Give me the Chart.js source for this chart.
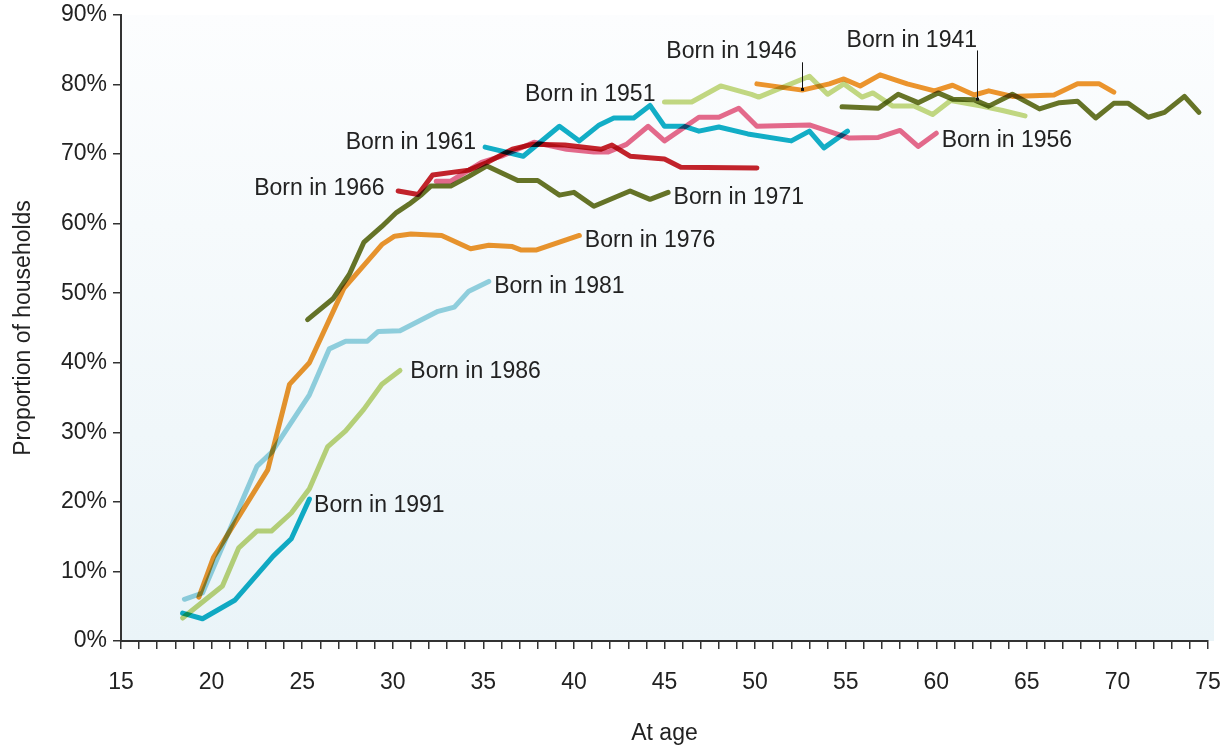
<!DOCTYPE html>
<html>
<head>
<meta charset="utf-8">
<title>Proportion of households by age</title>
<script src="https://cdn.jsdelivr.net/npm/chart.js@4.4.1/dist/chart.umd.min.js"></script>
<style>
  html, body { margin: 0; padding: 0; background: #ffffff; }
  #wrap { width: 1224px; height: 747px; position: relative; }
</style>
</head>
<body>
<div id="wrap"><canvas id="myChart" width="1224" height="747"></canvas></div>
<script>
// Cohort data: age (years) and proportion of households (%)
var age1941 = [54.8, 56.8, 57.9, 59.0, 60.1, 60.9, 62.1, 62.9, 64.2, 65.7, 66.8, 67.8, 68.8, 69.8, 70.6, 71.7, 72.6, 73.7, 74.5];
var pct1941 = [76.8, 76.6, 78.6, 77.4, 78.8, 77.9, 77.8, 76.9, 78.6, 76.5, 77.4, 77.6, 75.2, 77.3, 77.3, 75.3, 76.0, 78.3, 76.0];

var age1946 = [50.1, 52.6, 54.1, 54.9, 55.8, 56.9, 58.4, 59.9, 60.9, 62.1, 62.9, 64.2, 66.5, 67.8, 69.0, 69.8];
var pct1946 = [80.1, 79.2, 80.1, 80.8, 79.8, 81.4, 80.1, 79.1, 79.9, 78.5, 79.1, 78.3, 78.5, 80.1, 80.1, 78.9];

var age1951 = [45.0, 46.5, 48.1, 49.8, 50.2, 53.0, 54.0, 54.9, 55.9, 56.5, 57.6, 58.8, 59.8, 60.8, 62.5, 63.6, 64.9];
var pct1951 = [77.5, 77.5, 79.8, 78.6, 78.2, 81.2, 78.6, 80.1, 78.2, 78.8, 76.9, 76.9, 75.7, 77.7, 76.9, 76.3, 75.5];

var age1956 = [32.4, 33.2, 34.9, 36.0, 37.8, 39.6, 41.1, 41.9, 42.9, 44.1, 45.0, 46.9, 48.0, 49.1, 50.1, 53.0, 55.2, 56.8, 58.0, 59.0, 60.0];
var pct1956 = [66.1, 66.1, 68.8, 69.7, 71.7, 70.7, 70.3, 70.3, 71.4, 74.0, 71.9, 75.3, 75.3, 76.6, 74.0, 74.2, 72.3, 72.4, 73.4, 71.1, 73.0];

var age1961 = [35.1, 37.2, 39.2, 40.3, 41.4, 42.2, 43.3, 44.2, 45.0, 46.1, 46.9, 48.0, 49.6, 52.0, 53.0, 53.8, 55.1];
var pct1961 = [71.0, 69.7, 74.0, 71.9, 74.2, 75.2, 75.2, 77.0, 74.0, 74.0, 73.3, 73.9, 72.9, 71.9, 73.3, 70.9, 73.3];

var age1966 = [30.3, 31.4, 32.2, 34.2, 35.2, 36.6, 37.7, 39.5, 41.5, 42.1, 43.1, 45.0, 45.9, 50.1];
var pct1966 = [64.7, 64.2, 67.0, 67.7, 68.8, 70.7, 71.4, 71.3, 70.7, 71.3, 69.7, 69.3, 68.1, 68.0];

var age1971 = [25.3, 26.7, 27.6, 28.4, 29.4, 30.2, 30.9, 31.6, 32.1, 33.2, 34.2, 35.2, 36.9, 38.0, 39.2, 40.0, 41.1, 43.1, 44.2, 45.2];
var pct1971 = [46.2, 49.2, 52.7, 57.3, 59.6, 61.6, 62.8, 64.2, 65.4, 65.4, 66.8, 68.3, 66.2, 66.2, 64.1, 64.5, 62.5, 64.7, 63.5, 64.5];

var age1976 = [19.3, 20.1, 23.1, 24.3, 25.4, 27.3, 29.4, 30.1, 31.0, 32.7, 34.3, 35.3, 36.6, 37.1, 37.9, 40.3];
var pct1976 = [6.3, 12.0, 24.6, 36.9, 40.0, 50.7, 57.0, 58.2, 58.5, 58.3, 56.4, 56.9, 56.7, 56.2, 56.2, 58.3];

var age1981 = [18.5, 19.5, 22.5, 23.3, 25.4, 26.5, 27.4, 28.6, 29.2, 30.4, 32.5, 33.4, 34.2, 35.3];
var pct1981 = [6.0, 6.9, 25.1, 27.1, 35.4, 42.0, 43.1, 43.1, 44.5, 44.6, 47.4, 48.0, 50.3, 51.7];

var age1986 = [18.4, 20.6, 21.5, 22.5, 23.3, 24.4, 25.4, 26.4, 27.4, 28.4, 29.4, 30.4];
var pct1986 = [3.3, 7.9, 13.4, 15.8, 15.8, 18.4, 21.9, 27.9, 30.2, 33.3, 36.9, 38.9];

var age1991 = [18.4, 19.5, 21.3, 23.4, 24.4, 25.4];
var pct1991 = [4.0, 3.2, 5.9, 12.2, 14.7, 20.4];

// Axis ranges and tick labels
var xMin = 15, xMax = 75;
var yMin = 0, yMax = 90;
var yTickStep = 10;

// Label text and its anchor (age, %) for each cohort
var labelText = ["Born in 1941", "Born in 1946", "Born in 1951", "Born in 1956", "Born in 1961", "Born in 1966",
                 "Born in 1971", "Born in 1976", "Born in 1981", "Born in 1986", "Born in 1991"];
var labelAge = [55.05, 45.1, 37.3, 60.3, 27.4, 22.35, 45.5, 40.6, 35.6, 30.97, 25.66];
var labelPct = [86.3, 84.7, 78.5, 72.0, 71.7, 65.1, 63.7, 57.5, 51.0, 38.7, 19.4];

// leader lines: [age, fromPct, toPct]
var leader1946 = [52.57, 83.2, 79.3];
var leader1941 = [62.24, 84.9, 77.9];

var FONT = "'Liberation Sans', Arial, sans-serif";
var TEXT = "#222222";

function pairs(ages, vals) {
  var out = [];
  for (var i = 0; i < ages.length; i++) {
    out.push({ x: ages[i], y: vals[i] });
  }
  return out;
}

function series(label, ages, vals, color) {
  return {
    label: label,
    data: pairs(ages, vals),
    borderColor: color,
    backgroundColor: color,
    borderWidth: 5,
    pointRadius: 0,
    tension: 0,
    borderCapStyle: "round",
    borderJoinStyle: "round",
    fill: false
  };
}

// Plot background gradient
var bgPlugin = {
  id: "bgGradient",
  beforeDraw: function (chart) {
    var a = chart.chartArea;
    var ctx = chart.ctx;
    var g = ctx.createLinearGradient(0, a.top, 0, a.bottom);
    g.addColorStop(0, "#fcfdfe");
    g.addColorStop(1, "#eaf4f8");
    ctx.save();
    ctx.fillStyle = g;
    ctx.fillRect(a.left, a.top, a.right - a.left + 6, a.bottom - a.top);
    ctx.restore();
  }
};

// Lines are blended like ink (overlaps get darker)
var multiplyPlugin = {
  id: "multiplyLines",
  beforeDatasetsDraw: function (chart) {
    chart.ctx.save();
    chart.ctx.globalCompositeOperation = "multiply";
  },
  afterDatasetsDraw: function (chart) {
    chart.ctx.restore();
  }
};

// Cohort labels written next to the lines
var labelPlugin = {
  id: "cohortLabels",
  afterDraw: function (chart) {
    var ctx = chart.ctx;
    var xs = chart.scales.x, ys = chart.scales.y;
    ctx.save();
    ctx.font = "23px " + FONT;
    ctx.fillStyle = TEXT;
    ctx.textAlign = "left";
    ctx.textBaseline = "middle";
    for (var i = 0; i < labelText.length; i++) {
      ctx.fillText(labelText[i], xs.getPixelForValue(labelAge[i]), ys.getPixelForValue(labelPct[i]));
    }
    // small leader lines for 1946 and 1941
    [leader1946, leader1941].forEach(function (l) {
      var x = Math.round(xs.getPixelForValue(l[0])) + 0.5;
      var y0 = ys.getPixelForValue(l[1]);
      var y1 = ys.getPixelForValue(l[2]);
      ctx.strokeStyle = "#111";
      ctx.lineWidth = 1;
      ctx.beginPath();
      ctx.moveTo(x, y0);
      ctx.lineTo(x, y1);
      ctx.stroke();
      ctx.fillStyle = "#111";
      ctx.fillRect(x - 1.5, y1 - 1.5, 3, 3);
    });
    ctx.restore();
  }
};

var ctx = document.getElementById("myChart").getContext("2d");
var myChart = new Chart(ctx, {
  type: "line",
  data: {
    datasets: [
      series("Born in 1941", age1941, pct1941, "#687527"),
      series("Born in 1946", age1946, pct1946, "#f0962d"),
      series("Born in 1951", age1951, pct1951, "#c5da82"),
      series("Born in 1956", age1956, pct1956, "#e96b8c"),
      series("Born in 1961", age1961, pct1961, "#12b0c8"),
      series("Born in 1966", age1966, pct1966, "#c8232b"),
      series("Born in 1971", age1971, pct1971, "#687527"),
      series("Born in 1976", age1976, pct1976, "#f0962d"),
      series("Born in 1981", age1981, pct1981, "#95d3e0"),
      series("Born in 1986", age1986, pct1986, "#c0d67a"),
      series("Born in 1991", age1991, pct1991, "#10b0c8")
    ]
  },
  options: {
    responsive: false,
    animation: false,
    layout: { padding: { left: 0, top: 15, right: 16, bottom: 0 } },
    plugins: {
      legend: { display: false },
      tooltip: { enabled: false }
    },
    scales: {
      x: {
        type: "linear",
        min: xMin,
        max: xMax,
        // fixed height, and no extra room for the overhanging "75" label
        afterFit: function (scale) {
          scale.height = 106;
          scale.paddingLeft = 0;
          scale.paddingRight = 0;
        },
        border: { display: true, color: "#333", width: 2 },
        grid: { drawOnChartArea: false, drawTicks: true, tickLength: 8, color: "#333", lineWidth: 1.5 },
        ticks: {
          stepSize: 1,
          autoSkip: false,
          maxRotation: 0,
          padding: 20,
          color: TEXT,
          font: { family: FONT, size: 23 },
          callback: function (v) { return v % 5 === 0 ? String(v) : ""; }
        },
        title: {
          display: true,
          text: "At age",
          color: TEXT,
          font: { family: FONT, size: 23 },
          padding: { top: 5, bottom: 0 }
        }
      },
      y: {
        min: yMin,
        max: yMax,
        afterFit: function (scale) {
          scale.width = 121;
          scale.paddingTop = 0;
          scale.paddingBottom = 0;
        },
        border: { display: true, color: "#333", width: 2 },
        grid: { drawOnChartArea: false, drawTicks: true, tickLength: 8, color: "#333", lineWidth: 1.5 },
        ticks: {
          stepSize: yTickStep,
          padding: 6,
          color: TEXT,
          font: { family: FONT, size: 23 },
          callback: function (v) { return v + "%"; }
        },
        title: {
          display: true,
          text: "Proportion of households",
          color: TEXT,
          font: { family: FONT, size: 23 },
          padding: { top: 10, bottom: 0 }
        }
      }
    }
  },
  plugins: [bgPlugin, multiplyPlugin, labelPlugin]
});
</script>
</body>
</html>
